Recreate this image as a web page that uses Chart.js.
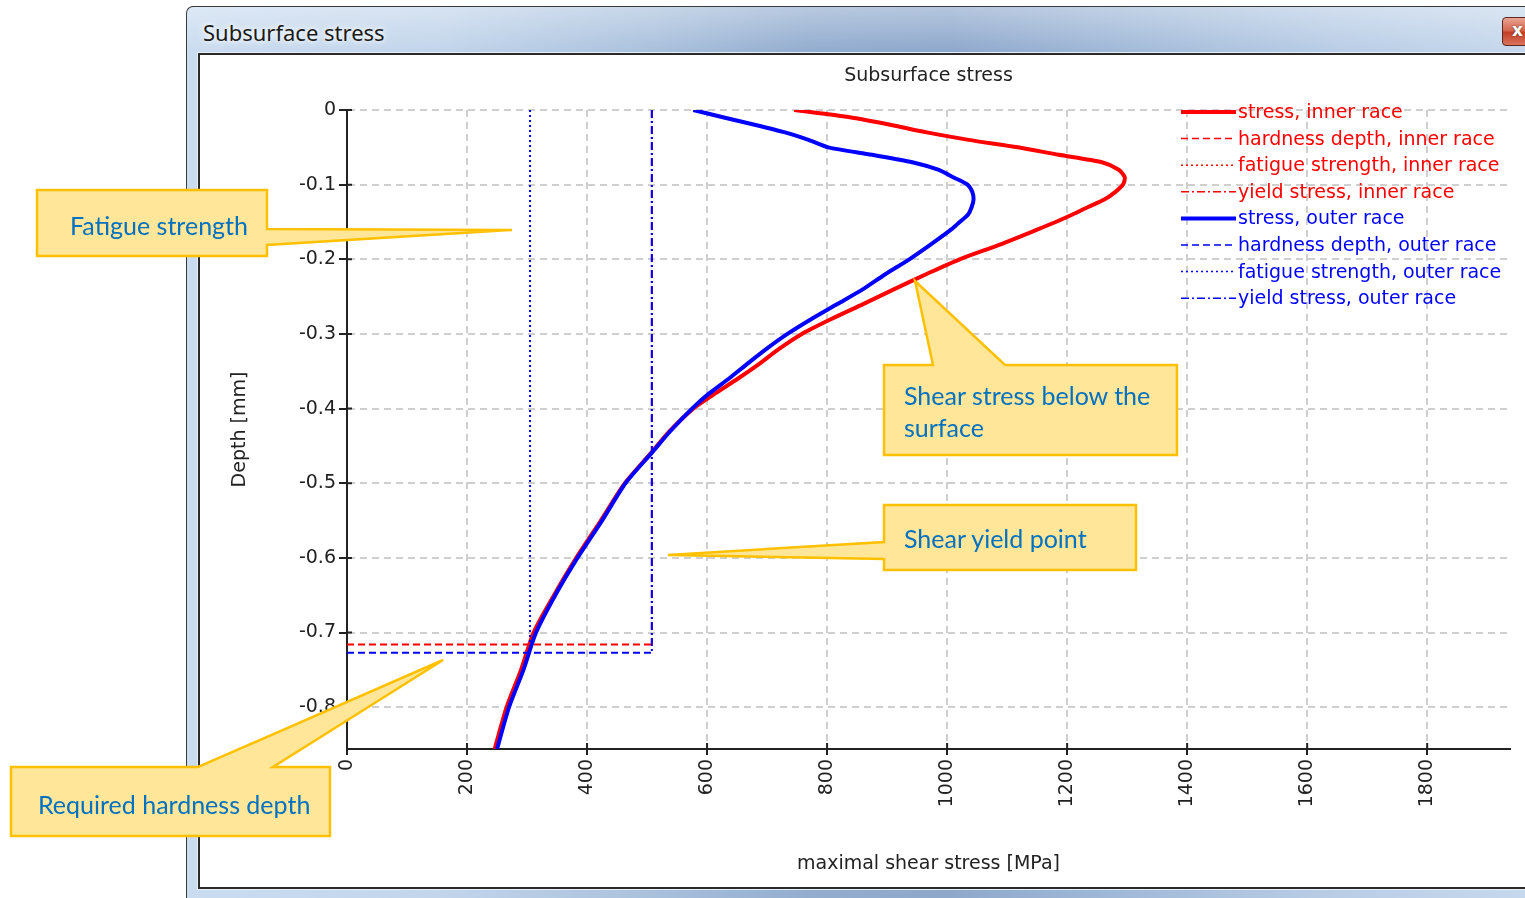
<!DOCTYPE html>
<html>
<head>
<meta charset="utf-8">
<title>Subsurface stress</title>
<script src="https://cdn.jsdelivr.net/npm/chart.js@4.4.0/dist/chart.umd.min.js"></script>
<style>
  html, body { margin: 0; padding: 0; background: #fff; }
  body { width: 1525px; height: 898px; position: relative; overflow: hidden; }
  .frame {
    position: absolute; left: 186px; top: 6px; width: 1360px; height: 900px;
    box-sizing: border-box; border: 1px solid #3a3a3a; border-right: none; border-radius: 7px 0 0 0;
    background:
      linear-gradient(180deg, rgba(255,255,255,0.35) 0px, rgba(255,255,255,0) 44px),
      linear-gradient(90deg, #cadcf0 0px, #c2d5eb 250px, #a9c0dc 470px, #93adcf 620px, #8ea8cc 760px, #a3bbd9 950px, #b9cde6 1150px, #c6d8ec 1340px);
  }
  .client {
    position: absolute; left: 198px; top: 53px; width: 1350px; height: 836px;
    box-sizing: border-box; border: 2px solid #2a2a2a; border-right: none; background: #fff;
    box-shadow: 0 0 0 1px #e9eff6;
  }
  .wtitle {
    position: absolute; left: 203px; top: 19px; font: 22px "Noto Sans", sans-serif; line-height: 26px;
    color: #1a1a1a; text-shadow: 0 0 8px #fff, 0 0 4px #fff;
  }
  .close {
    position: absolute; left: 1502px; top: 17px; width: 44px; height: 29px; box-sizing: border-box;
    border: 1px solid #5a2a20; border-radius: 4px;
    background: linear-gradient(180deg, #e9a493 0%, #d4634b 48%, #c23e24 52%, #d9735c 100%);
  }
  .close span {
    position: absolute; left: 9px; top: 2px; font: bold 17px "DejaVu Sans", sans-serif; color: #fff;
    text-shadow: 0 0 2px #5a2a20;
  }
  #chart { position: absolute; left: 200px; top: 55px; }
  svg.notes { position: absolute; left: 0; top: 0; }
  svg.notes path { fill: #ffe699; stroke: #ffc000; stroke-width: 2.5; stroke-linejoin: miter; }
  svg.notes text { font-family: Lato, "Open Sans", sans-serif; font-size: 25px; fill: #0070c0; dominant-baseline: central; }
</style>
</head>
<body>
<div class="frame"></div>
<div class="wtitle">Subsurface stress</div>
<div class="close"><span>x</span></div>
<div class="client"></div>
<canvas id="chart" width="1325" height="832"></canvas>

<svg class="notes" width="1525" height="898">
  <path d="M37,190 H267 V229 L512,230 L267,245 V256 H37 Z"/>
  <text x="70" y="225">Fatigue strength</text>
  <path d="M884,365 H933 L915,281 L1005,365 H1177 V455 H884 Z"/>
  <text x="904" y="395">Shear stress below the</text>
  <text x="904" y="427">surface</text>
  <path d="M884,505 H1136 V570 H884 V559 L668,555 L884,542 Z"/>
  <text x="904" y="538">Shear yield point</text>
  <path d="M11,767 H198 L443,660 L273,767 H330 V836 H11 Z"/>
  <text x="38" y="804">Required hardness depth</text>
</svg>

<script>
// depth below the surface [mm]
const depth = [0, -0.01, -0.02, -0.03, -0.04, -0.05, -0.06, -0.07, -0.08, -0.09,
  -0.10, -0.11, -0.12, -0.13, -0.14, -0.15, -0.16, -0.18, -0.20, -0.22, -0.24, -0.26, -0.28,
  -0.30, -0.32, -0.34, -0.36, -0.38, -0.40, -0.43, -0.46, -0.50, -0.55, -0.60, -0.65, -0.70,
  -0.75, -0.80, -0.856];
// maximal shear stress [MPa]
const stressInner = [745, 840, 907, 966, 1036, 1118, 1186, 1258, 1286, 1296,
  1293, 1280, 1262, 1235, 1209, 1181, 1151, 1089, 1021, 965, 912, 860, 807,
  758, 720, 687, 651, 613, 577, 538, 506, 463, 423, 382, 345, 311,
  290, 266, 246];
const stressOuter = [577, 628, 681, 730, 769, 802, 875, 942, 985, 1010,
  1034, 1042, 1044, 1041, 1035, 1021, 1007, 973, 937, 897, 860, 817, 774,
  734, 699, 667, 636, 603, 575, 539, 507, 464, 425, 384, 347, 315,
  294, 270, 250];

const fatigueInner = 305, fatigueOuter = 305;
const yieldInner = 508, yieldOuter = 508;
const hardnessInner = -0.716, hardnessOuter = -0.727;

const xTicks = [0, 200, 400, 600, 800, 1000, 1200, 1400, 1600, 1800];
const yTicks = [0, -0.1, -0.2, -0.3, -0.4, -0.5, -0.6, -0.7, -0.8];

const RED = '#ff0000', BLUE = '#0000ff';
const DASH = [7, 4], DOT = [2, 3], DASHDOT = [8, 3, 2, 3];

function raceSets(race, color, stress, fatigue, yieldS, hd, order) {
    return [
        {
            label: 'stress, ' + race,
            data: depth.map((d, i) => ({x: stress[i], y: d})),
            borderColor: color, borderWidth: 4, legendWidth: 4, tension: 0.25, order: order
        },
        {
            label: 'hardness depth, ' + race,
            data: [{x: 0, y: hd}, {x: yieldS, y: hd}],
            borderColor: color, borderWidth: 2, legendWidth: 1.5, borderDash: DASH, order: order
        },
        {
            label: 'fatigue strength, ' + race,
            data: [{x: fatigue, y: 0}, {x: fatigue, y: hd}],
            borderColor: color, borderWidth: 2, legendWidth: 1.5, borderDash: DOT, order: order
        },
        {
            label: 'yield stress, ' + race,
            data: [{x: yieldS, y: 0}, {x: yieldS, y: hd}],
            borderColor: color, borderWidth: 2, legendWidth: 1.5, borderDash: DASHDOT, order: order
        }
    ];
}

// chart title centred over the plot area
const plotTitle = {
    id: 'plotTitle',
    afterDraw(chart) {
        const {ctx, chartArea: a} = chart;
        ctx.save();
        ctx.font = '19px "DejaVu Sans"';
        ctx.fillStyle = '#222';
        ctx.textAlign = 'center';
        ctx.textBaseline = 'middle';
        ctx.fillText('Subsurface stress', (a.left + a.right) / 2, 21);
        ctx.restore();
    }
};

// small tick marks on the inside of the axes
const innerTicks = {
    id: 'innerTicks',
    afterDraw(chart) {
        const {ctx, chartArea: a, scales: {x, y}} = chart;
        ctx.save();
        ctx.strokeStyle = '#222';
        ctx.lineWidth = 2;
        ctx.beginPath();
        xTicks.forEach(v => {
            const px = x.getPixelForValue(v);
            ctx.moveTo(px, a.bottom);
            ctx.lineTo(px, a.bottom - 6);
        });
        yTicks.forEach(v => {
            const py = y.getPixelForValue(v);
            ctx.moveTo(a.left, py);
            ctx.lineTo(a.left + 5, py);
        });
        ctx.stroke();
        ctx.restore();
    }
};

// legend in the top right corner of the plot
const sideLegend = {
    id: 'sideLegend',
    afterDraw(chart) {
        const {ctx, chartArea: a} = chart;
        const x0 = a.right - 329, x1 = x0 + 55;
        ctx.save();
        ctx.font = '19px "DejaVu Sans"';
        ctx.textBaseline = 'middle';
        chart.data.datasets.forEach((ds, i) => {
            const yy = a.top + 2 + i * 26.6;
            ctx.strokeStyle = ds.borderColor;
            ctx.lineWidth = ds.legendWidth;
            ctx.setLineDash(ds.borderDash || []);
            ctx.beginPath();
            ctx.moveTo(x0, yy);
            ctx.lineTo(x1, yy);
            ctx.stroke();
            ctx.fillStyle = ds.borderColor;
            ctx.fillText(ds.label, x1 + 2, yy + 1);
        });
        ctx.restore();
    }
};

Chart.defaults.font.family = '"DejaVu Sans"';
Chart.defaults.font.size = 19;
Chart.defaults.color = '#222';

const ctx = document.getElementById('chart').getContext('2d');
new Chart(ctx, {
    type: 'scatter',
    data: {
        datasets: [
            ...raceSets('inner race', RED, stressInner, fatigueInner, yieldInner, hardnessInner, 2),
            ...raceSets('outer race', BLUE, stressOuter, fatigueOuter, yieldOuter, hardnessOuter, 1)
        ]
    },
    options: {
        responsive: false,
        animation: false,
        showLine: true,
        elements: { point: { radius: 0, hoverRadius: 0 } },
        layout: { autoPadding: false, padding: { left: 0, top: 55, right: 15, bottom: 0 } },
        plugins: {
            legend: { display: false },
            tooltip: { enabled: false }
        },
        scales: {
            x: {
                type: 'linear',
                min: 0,
                max: 1938,
                afterBuildTicks: s => { s.ticks = xTicks.map(v => ({value: v})); },
                afterFit: s => { s.height = 138; },
                ticks: { autoSkip: false, minRotation: 90, maxRotation: 90, padding: 4, callback: v => String(v) },
                grid: { color: '#cfcfcf', lineWidth: 2, tickColor: '#222', tickLength: 6, tickWidth: 2, tickBorderDash: [] },
                border: { color: '#222', width: 2, dash: [7, 5] },
                title: { display: true, text: 'maximal shear stress [MPa]', font: { size: 19 }, padding: { bottom: 12, top: 0 } }
            },
            y: {
                type: 'linear',
                min: -0.856,
                max: 0,
                afterBuildTicks: s => { s.ticks = yTicks.map(v => ({value: v})); },
                afterFit: s => { s.width = 147; },
                ticks: { padding: 3, callback: v => (v === 0 ? '0' : v.toFixed(1)) },
                grid: { color: '#cfcfcf', lineWidth: 2, tickColor: '#222', tickLength: 8, tickWidth: 2, tickBorderDash: [] },
                border: { color: '#222', width: 2, dash: [7, 5] },
                title: { display: true, text: 'Depth [mm]', font: { size: 19 }, padding: { top: 29, bottom: 0 } }
            }
        }
    },
    plugins: [plotTitle, innerTicks, sideLegend]
});
</script>
</body>
</html>
